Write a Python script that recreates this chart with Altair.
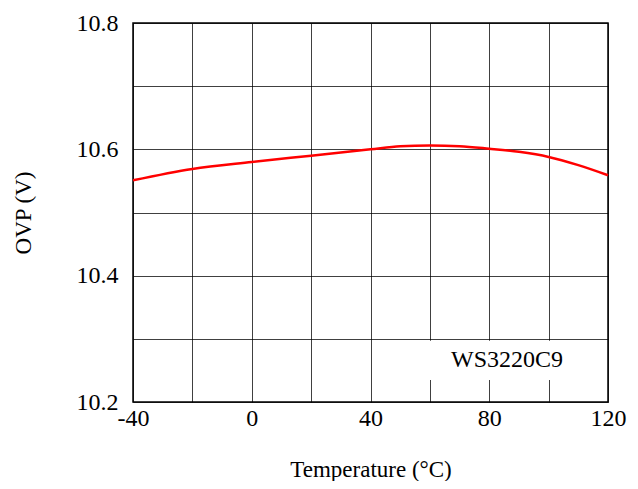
import altair as alt
import pandas as pd

temps = [-40, -20, 0, 20, 40, 50, 60, 70, 80, 90, 100, 110, 120]
ovp = [10.551, 10.569, 10.580, 10.590, 10.600, 10.605, 10.606, 10.605, 10.601, 10.596, 10.588, 10.575, 10.559]

x_grid = [-40, -20, 0, 20, 40, 60, 80, 100, 120]
y_grid = [10.2, 10.3, 10.4, 10.5, 10.6, 10.7, 10.8]

label_text = "WS3220C9"
box = pd.DataFrame({"x": [58.5], "x2": [117.5], "y": [10.235], "y2": [10.297]})
lbl = pd.DataFrame({"x": [86.0], "y": [10.266], "t": [label_text]})

df = pd.DataFrame({"T": temps, "V": ovp})

FONT = "Liberation Serif"

xscale = alt.Scale(domain=[-40, 120], nice=False, zero=False)
yscale = alt.Scale(domain=[10.2, 10.8], nice=False, zero=False)

xaxis = alt.Axis(values=x_grid, grid=True, ticks=False, domain=False, labelFlush=False,
                 labelExpr="datum.value % 40 == 0 ? '' + datum.value : ''",
                 title="Temperature (\u00b0C)", titlePadding=28,
                 labelPadding=4)
yaxis = alt.Axis(values=y_grid, grid=True, ticks=False, domain=False, format=".1f",
                 labelFlush=False,
                 labelExpr="round(datum.value*10) % 2 == 0 ? datum.label : ''",
                 title="OVP (V)", titlePadding=41, labelPadding=15)

line = alt.Chart(df).mark_line(color="#ff0000", strokeWidth=2.5, interpolate="monotone").encode(
    x=alt.X("T:Q", scale=xscale, axis=xaxis),
    y=alt.Y("V:Q", scale=yscale, axis=yaxis),
)

rect = alt.Chart(box).mark_rect(color="white").encode(
    x=alt.X("x:Q", scale=xscale), x2="x2", y=alt.Y("y:Q", scale=yscale), y2="y2"
)

text = alt.Chart(lbl).mark_text(font=FONT, fontSize=24, color="black").encode(
    x=alt.X("x:Q", scale=xscale), y=alt.Y("y:Q", scale=yscale), text="t:N"
)

chart = alt.layer(line, rect, text).properties(
    width=475, height=379,
    background="white",
    autosize=alt.AutoSizeParams(type="none"),
    padding={"left": 125, "top": 15, "right": 22, "bottom": 79},
).configure_view(stroke="black", strokeWidth=1.5).configure_axis(
    gridColor="#000000", gridWidth=1, gridOpacity=0.75,
    labelFont=FONT, labelFontSize=24, labelColor="black",
    titleFont=FONT, titleFontSize=23, titleFontWeight="normal", titleColor="black",
)

chart.save("out.html", embed_options={"renderer": "svg", "actions": False})
